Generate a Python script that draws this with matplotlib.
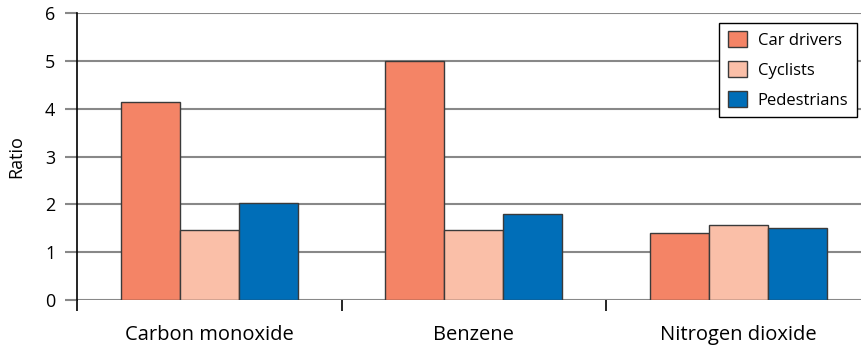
import numpy as np
import matplotlib
matplotlib.use('Agg')
import matplotlib.pyplot as plt

plt.rcParams['font.family'] = ['Open Sans', 'DejaVu Sans']

categories = ['Carbon monoxide', 'Benzene', 'Nitrogen dioxide']
series = ['Car drivers', 'Cyclists', 'Pedestrians']
car_drivers = [4.13, 5.0, 1.40]
cyclists = [1.46, 1.46, 1.57]
pedestrians = [2.03, 1.80, 1.51]
colors = ['#F48466', '#FABFA8', '#006EB8']

W, H = 861, 345
fig = plt.figure(figsize=(W/100, H/100), dpi=100)
left_px, right_px = 77, 861
ax = fig.add_axes([left_px/W, 45/H, (right_px-left_px)/W, 287/H])

x = np.arange(len(categories))
w = 0.223
for i, (vals, name) in enumerate(zip([car_drivers, cyclists, pedestrians], series)):
    ax.bar(x + (i - 1) * w, vals, w, color=colors[i], edgecolor='#3a3a3a',
           linewidth=1.0, label=name, zorder=3)

ax.set_xlim(-0.5, -0.5 + (right_px - left_px) / 264.5)
ax.set_ylim(0, 6)
ax.set_yticks(range(0, 7))
ax.yaxis.grid(True, color='#888888', linewidth=1.5, zorder=0)
ax.set_axisbelow(True)

for s in ['top', 'right', 'bottom']:
    ax.spines[s].set_visible(False)
ax.spines['left'].set_color('black')
ax.spines['left'].set_linewidth(1.2)

ax.tick_params(axis='y', length=8.5, width=1.5, color='#888888', labelsize=13, pad=7)
ax.set_xticks(x)
ax.set_xticklabels(categories)
ax.set_xticks([-0.5, 0.5, 1.5], minor=True)
ax.tick_params(axis='x', which='major', length=0, labelsize=14.5, pad=18)
ax.tick_params(axis='x', which='minor', length=8, width=1.2, color='black')

ax.set_ylabel('Ratio', fontsize=13, labelpad=14)

leg = ax.legend(loc='upper right', bbox_to_anchor=(0.9945, 0.966), fontsize=12,
                frameon=True, fancybox=False, edgecolor='black', framealpha=1,
                handlelength=1.15, handleheight=1.1, handletextpad=0.65,
                borderpad=0.5, labelspacing=0.75, borderaxespad=0)
leg.get_frame().set_linewidth(1.0)

fig.savefig('out.png', dpi=100)
